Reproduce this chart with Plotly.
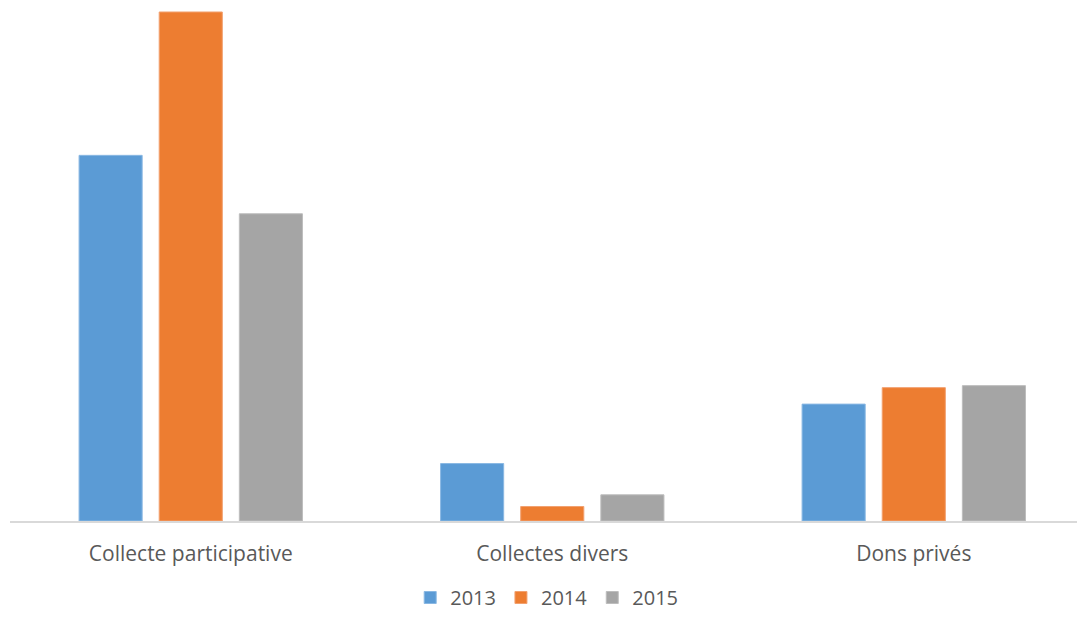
import plotly.graph_objects as go

categories = ["Collecte participative", "Collectes divers", "Dons privés"]
years = ["2013", "2014", "2015"]
values_2013 = [3660, 575, 1170]
values_2014 = [5095, 145, 1335]
values_2015 = [3075, 262, 1355]
colors = ["#5B9BD5", "#ED7D31", "#A5A5A5"]
edge_colors = ["#8AB8E3", "#F2A170", "#BDBDBD"]

fig = go.Figure()
for year, vals, col, edge in zip(years, [values_2013, values_2014, values_2015], colors, edge_colors):
    fig.add_trace(go.Bar(
        x=categories, y=vals, name=year,
        marker=dict(color=col, line=dict(color=edge, width=1)),
    ))

fig.update_layout(
    width=1077, height=617,
    margin=dict(l=10, r=0, t=0, b=95.5),
    paper_bgcolor="white", plot_bgcolor="white",
    barmode="group", bargap=0.335, bargroupgap=0.2125,
    font=dict(family="Open Sans", color="#595959", size=20),
    showlegend=True,
    legend=dict(
        orientation="h", xanchor="center", x=0.5 + 0.003,
        yref="container", y=0.0, yanchor="bottom",
        font=dict(size=20, color="#595959"),
        itemwidth=30, tracegroupgap=0,
    ),
    xaxis=dict(
        range=[-0.5, 2.4515],
        showline=True, linecolor="#D9D9D9", linewidth=1.5,
        showgrid=False, ticks="", ticklabelstandoff=13,
        tickfont=dict(size=21, color="#595959"),
    ),
    yaxis=dict(
        range=[0, 5215], visible=False, showgrid=False, zeroline=False,
    ),
)

fig.write_html("out.html")
